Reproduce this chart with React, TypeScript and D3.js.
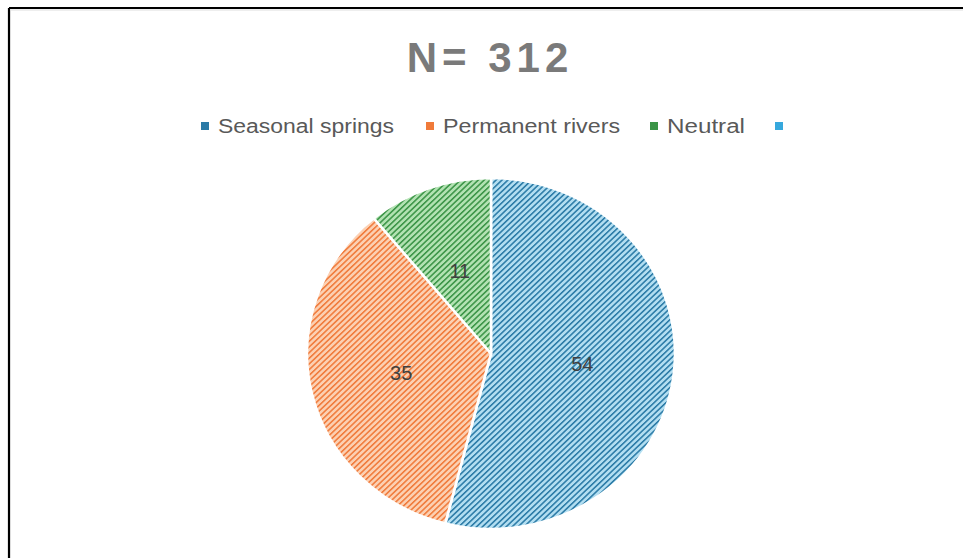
import React from "react";
import * as d3 from "d3";

const categories = ["Seasonal springs", "Permanent rivers", "Neutral", ""];
const values = [54, 35, 11, 0];
const titleText = "N= 312";

const darkColors = ["#2a7aa6", "#f07a3a", "#3a9446", "#36a8dd"];
const lightColors = ["#b2def1", "#fcd0b2", "#b2e2b2", "#c4e7f6"];
const legendX = [201, 426, 650, 775];
const legendTextW = [176, 177, 78, 0];

export default function App() {
  const W = 963, H = 558;
  const cx = 491, cy = 353.5, ry = 175.5, rx = 184;
  const sx = rx / ry;
  const pie = d3.pie<number>().sort(null).value((d) => d)(values);
  const arc = d3.arc<d3.PieArcDatum<number>>().innerRadius(0).outerRadius(ry);
  const labelArc = d3.arc<d3.PieArcDatum<number>>().innerRadius(ry * 0.5).outerRadius(ry * 0.5);
  return (
    <svg width={W} height={H} style={{ position: "absolute", left: 0, top: 0, display: "block" }}
      fontFamily="'Liberation Sans', Arial, sans-serif">
      <defs>
        {darkColors.map((c, i) => (
          <pattern key={i} id={`hatch${i}`} width={4} height={4} patternUnits="userSpaceOnUse"
            patternTransform="rotate(45)">
            <rect width={4} height={4} fill={lightColors[i]} />
            <rect x={0} y={0} width={1.5} height={4} fill={c} />
          </pattern>
        ))}
      </defs>
      <rect x={0} y={0} width={W} height={H} fill="#fff" />
      <line x1={9} y1={8} x2={W} y2={8} stroke="#000" strokeWidth={2.2} />
      <line x1={9} y1={8} x2={9} y2={H} stroke="#000" strokeWidth={2.2} />
      <line x1={10.5} y1={10} x2={W} y2={10} stroke="#ddd" strokeWidth={1} />
      <line x1={10.5} y1={10} x2={10.5} y2={H} stroke="#ddd" strokeWidth={1} />
      <text x={490} y={72} textAnchor="middle" fontSize={42} fontWeight="bold" fill="#7a7a7a"
        letterSpacing={5}>{titleText}</text>
      {categories.map((c, i) => (
        <g key={i}>
          <rect x={legendX[i]} y={122} width={8} height={8} fill={darkColors[i]} />
          {c && (
            <text x={legendX[i] + 17} y={133} fontSize={19.5} fill="#595959"
              textLength={legendTextW[i]} lengthAdjust="spacingAndGlyphs">{c}</text>
          )}
        </g>
      ))}
      <g transform={`translate(${cx},${cy}) scale(${sx},1)`}>
        {pie.filter((d) => d.value > 0).map((d, i) => (
          <path key={i} d={arc(d) || ""} fill={`url(#hatch${i})`} stroke="#fff" strokeWidth={2.5} />
        ))}
      </g>
      {pie.filter((d) => d.value > 0).map((d, i) => {
        const [lx, ly] = labelArc.centroid(d);
        return (
          <text key={i} x={cx + lx * sx} y={cy + ly} dy="0.35em" textAnchor="middle" fontSize={20}
            fill="#404040">{d.value}</text>
        );
      })}
    </svg>
  );
}
